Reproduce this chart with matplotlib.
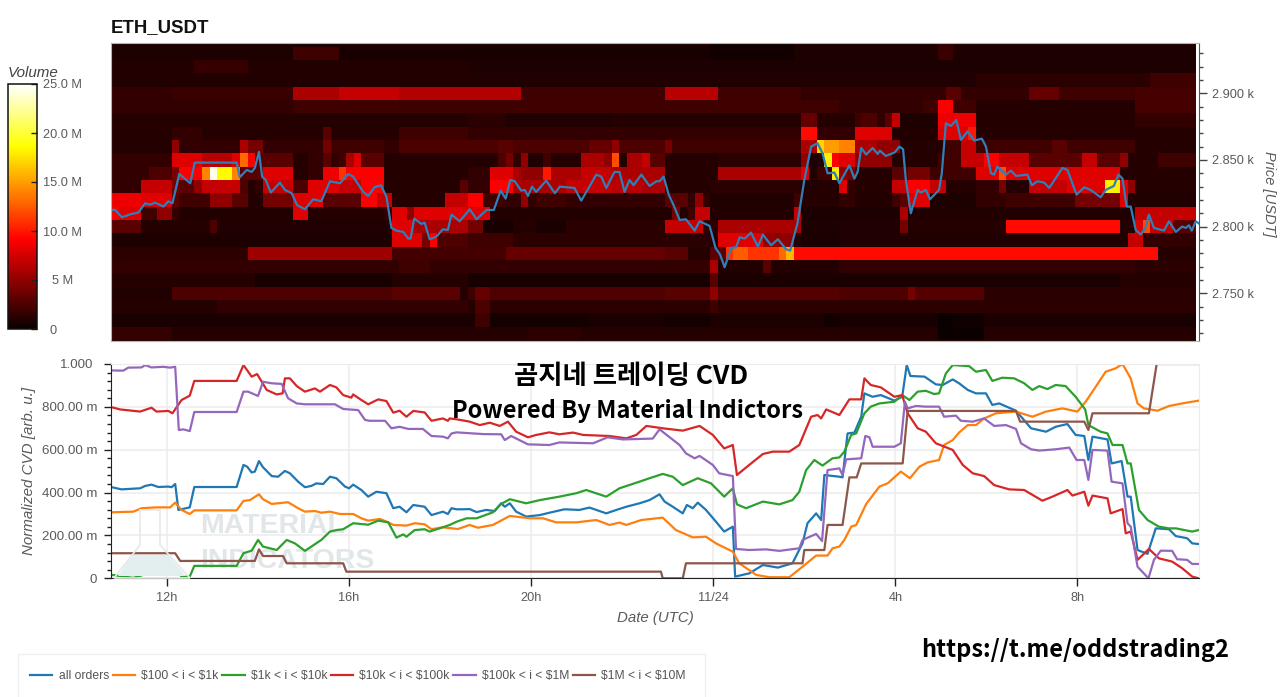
import numpy as np
import matplotlib
matplotlib.use('Agg')
from matplotlib import pyplot as plt
from matplotlib.lines import Line2D
from matplotlib.patches import Polygon, Rectangle
from matplotlib.transforms import ScaledTranslation

plt.rcParams['font.family'] = ['Liberation Sans', 'DejaVu Sans']

# heatmap rows: (first 10 min column of the run, volume in M), one list per 10 USDT price level
row_2940 = [(0, 0.7), (79, 0.3), (90, 0.7), (109, 1.5), (111, 0.8)]
row_2930 = [(0, 0.7), (24, 2.0), (30, 0.5), (79, 0.3), (90, 0.7), (109, 1.8), (111, 0.7)]
row_2920 = [(0, 0.9), (11, 1.7), (18, 0.9), (47, 0.7)]
row_2910 = [(0, 0.8), (114, 1.2), (137, 2.0)]
row_2900 = [(0, 1.5), (8, 1.8), (24, 6.0), (30, 7.0), (38, 6.3), (54, 2.0), (73, 6.5), (80, 2.0),
            (91, 1.5), (110, 3.0), (112, 1.5), (121, 3.5), (125, 2.0), (135, 2.3)]
row_2890 = [(0, 1.5), (24, 2.0), (91, 2.0), (96, 1.5), (107, 2.0), (109, 9.0), (111, 2.0), (114, 1.0), (135, 2.3)]
row_2880 = [(0, 1.0), (47, 1.2), (52, 0.8), (66, 1.0), (91, 3.5), (93, 1.0), (98, 2.0), (99, 2.5), (101, 1.5),
            (102, 3.0), (103, 7.0), (104, 0.7), (109, 8.5), (114, 1.0), (135, 1.5)]
row_2870 = [(0, 1.0), (8, 1.5), (12, 1.0), (28, 3.0), (29, 1.0), (38, 2.0), (47, 1.5), (91, 9.5), (93, 1.5),
            (98, 8.0), (103, 0.9), (109, 8.0), (113, 10.0), (114, 1.0)]
row_2860 = [(0, 1.0), (8, 5.0), (9, 1.5), (17, 6.0), (18, 4.0), (20, 1.5), (28, 4.0), (29, 2.0), (36, 1.5),
            (38, 2.5), (51, 3.0), (53, 2.5), (63, 3.5), (66, 5.0), (67, 2.5), (73, 4.0), (74, 2.0), (91, 6.0),
            (93, 17.0), (94, 15.0), (96, 14.0), (98, 6.0), (101, 5.0), (104, 1.0), (110, 2.0), (112, 7.0),
            (114, 2.0), (124, 3.0), (126, 2.0), (135, 1.0)]
row_2850 = [(0, 1.5), (8, 8.0), (12, 6.5), (16, 8.0), (17, 13.0), (18, 9.0), (19, 3.0), (24, 1.0), (26, 1.5),
            (28, 3.0), (29, 1.5), (30, 2.0), (31, 6.0), (32, 8.0), (33, 3.0), (36, 1.0), (51, 2.5), (52, 4.0),
            (53, 1.5), (54, 5.0), (55, 0.8), (57, 2.0), (58, 1.0), (62, 6.0), (65, 5.0), (66, 12.0), (67, 1.0),
            (68, 6.0), (70, 7.0), (71, 3.0), (73, 1.0), (80, 1.2), (91, 5.0), (92, 0.8), (94, 18.0), (95, 9.0),
            (96, 8.0), (98, 5.0), (103, 1.0), (109, 2.0), (112, 7.0), (115, 9.0), (117, 7.0), (121, 3.0),
            (128, 7.0), (130, 3.0), (133, 5.0), (134, 1.0), (138, 2.0)]
row_2840 = [(0, 1.5), (5, 2.5), (8, 4.0), (9, 9.0), (12, 14.0), (13, 24.5), (14, 18.5), (16, 14.0), (17, 3.0),
            (20, 8.0), (24, 1.0), (26, 1.5), (28, 8.5), (30, 11.0), (31, 9.0), (36, 1.0), (47, 1.5), (50, 8.0),
            (53, 6.0), (54, 5.0), (57, 10.0), (58, 6.0), (62, 7.0), (66, 6.0), (73, 1.0), (80, 6.0), (91, 8.0),
            (92, 0.8), (93, 2.0), (95, 18.0), (96, 5.0), (97, 4.0), (98, 1.0), (103, 3.0), (105, 4.0), (108, 2.0),
            (114, 8.0), (117, 12.0), (118, 8.0), (133, 1.0)]
row_2830 = [(0, 1.5), (4, 7.0), (8, 4.0), (9, 3.0), (11, 5.0), (12, 7.0), (17, 2.5), (18, 1.0), (19, 1.5),
            (20, 7.0), (24, 2.5), (26, 8.0), (30, 7.0), (33, 9.0), (36, 1.0), (46, 3.0), (47, 1.5), (50, 9.0),
            (53, 6.0), (60, 7.0), (66, 6.5), (70, 6.0), (73, 1.0), (79, 1.2), (91, 0.8), (93, 1.0), (96, 8.0),
            (97, 1.5), (98, 1.0), (103, 7.0), (105, 9.0), (108, 7.0), (110, 1.0), (114, 1.5), (117, 4.0),
            (118, 1.0), (121, 7.0), (126, 8.0), (131, 18.0), (133, 8.0), (134, 5.0), (135, 1.0)]
row_2820 = [(0, 8.5), (4, 8.0), (8, 3.0), (9, 2.0), (13, 5.0), (16, 3.0), (18, 1.0), (20, 4.0), (24, 8.0),
            (28, 3.0), (33, 9.0), (35, 7.0), (37, 1.0), (44, 7.0), (47, 9.0), (49, 2.0), (52, 1.5), (54, 5.0),
            (55, 1.5), (56, 2.0), (60, 1.5), (73, 3.0), (76, 1.5), (77, 5.0), (78, 1.5), (79, 0.8), (90, 2.0),
            (91, 1.0), (96, 1.5), (98, 0.9), (103, 2.0), (104, 3.0), (105, 8.0), (108, 0.7), (114, 1.5), (118, 2.0),
            (127, 4.0), (133, 8.0), (134, 1.0), (135, 0.8)]
row_2810 = [(0, 9.0), (1, 8.0), (4, 2.0), (6, 5.0), (8, 1.5), (9, 0.9), (24, 8.0), (26, 1.0), (36, 1.5), (37, 8.0),
            (39, 5.0), (40, 8.0), (50, 0.9), (74, 4.0), (75, 0.9), (76, 2.0), (77, 7.0), (79, 0.9), (90, 7.0),
            (91, 0.6), (96, 0.7), (104, 6.0), (105, 0.8), (135, 7.0)]
row_2800 = [(0, 3.0), (4, 1.0), (13, 2.5), (14, 0.8), (37, 8.0), (40, 6.0), (47, 4.0), (49, 0.5), (53, 1.0),
            (56, 0.6), (60, 1.2), (73, 7.0), (78, 1.2), (80, 6.0), (91, 0.7), (96, 0.8), (104, 4.0), (105, 1.0),
            (118, 9.5), (133, 1.0), (135, 8.0), (136, 12.0), (137, 7.0), (140, 3.0)]
row_2790 = [(0, 0.7), (37, 8.0), (41, 4.0), (42, 9.0), (43, 2.5), (47, 2.0), (53, 1.2), (79, 1.0), (80, 8.0),
            (86, 5.0), (90, 1.0), (91, 0.6), (96, 0.8), (134, 7.0), (136, 1.5)]
row_2780 = [(0, 1.3), (18, 5.5), (37, 2.2), (52, 3.5), (73, 3.0), (76, 1.0), (79, 3.0), (81, 11.0), (82, 12.5),
            (84, 11.0), (88, 13.0), (89, 16.0), (90, 9.5), (138, 1.0)]
row_2770 = [(0, 1.5), (38, 2.0), (42, 1.5), (79, 6.0), (80, 0.9), (86, 3.0), (87, 0.9), (96, 1.5), (135, 1.2)]
row_2760 = [(0, 1.0), (19, 0.5), (37, 1.0), (47, 0.5), (79, 3.0), (80, 0.6), (133, 1.0)]
row_2750 = [(0, 0.8), (8, 2.5), (37, 3.0), (46, 1.0), (47, 2.0), (48, 3.5), (50, 2.6), (73, 3.0), (79, 5.0),
            (80, 2.8), (96, 2.5), (105, 4.0), (106, 2.8), (115, 1.2)]
row_2740 = [(0, 1.0), (14, 1.5), (47, 1.0), (48, 2.5), (50, 1.3), (79, 2.0), (80, 1.3)]
row_2730 = [(0, 0.6), (48, 2.0), (50, 0.4), (63, 0.6), (73, 0.4), (79, 0.7), (94, 0.3), (96, 0.5), (109, 0.05),
            (111, 0.2), (115, 0.6)]
row_2720 = [(0, 1.6), (8, 1.0), (55, 1.3), (62, 1.0), (109, 0.05), (115, 1.0)]
row_2710 = [(0, 1.0)]

heat_rows = [row_2710, row_2720, row_2730, row_2740, row_2750, row_2760, row_2770, row_2780,
             row_2790, row_2800, row_2810, row_2820, row_2830, row_2840, row_2850, row_2860,
             row_2870, row_2880, row_2890, row_2900, row_2910, row_2920, row_2930, row_2940]

# times are hours since 00:00 on 11/23
price_t = [10.77, 10.86, 11.01, 11.22, 11.37, 11.52, 11.63, 11.74, 11.92, 12.03, 12.12, 12.27, 12.51, 12.61, 13.53, 13.60, 13.75, 13.86, 13.93, 14.02, 14.09, 14.17, 14.28, 14.48, 14.59, 14.74, 14.86, 15.03, 15.21, 15.39, 15.58, 15.80, 15.98, 16.09, 16.31, 16.42, 16.56, 16.70, 16.82, 16.93, 17.04, 17.19, 17.30, 17.35, 17.43, 17.59, 17.66, 17.77, 17.92, 18.06, 18.17, 18.25, 18.43, 18.65, 18.80, 19.02, 19.18, 19.33, 19.44, 19.54, 19.64, 19.78, 19.86, 19.93, 20.02, 20.11, 20.33, 20.52, 20.63, 20.95, 21.10, 21.28, 21.43, 21.54, 21.65, 21.83, 21.94, 22.05, 22.16, 22.25, 22.42, 22.60, 22.75, 22.82, 22.91, 23.02, 23.13, 23.26, 23.40, 23.59, 23.70, 23.92, 24.05, 24.15, 24.25, 24.39, 24.50, 24.58, 24.69, 24.83, 24.98, 25.09, 25.27, 25.42, 25.60, 25.69, 25.85, 26.00, 26.15, 26.29, 26.40, 26.51, 26.66, 26.77, 26.99, 27.10, 27.17, 27.25, 27.36, 27.50, 27.61, 27.66, 27.79, 27.98, 28.09, 28.17, 28.23, 28.34, 28.49, 28.56, 28.67, 28.76, 28.96, 29.02, 29.11, 29.22, 29.34, 29.44, 29.59, 29.73, 29.90, 29.99, 30.10, 30.17, 30.24, 30.43, 30.54, 30.65, 30.90, 31.00, 31.12, 31.27, 31.38, 31.67, 31.78, 31.98, 32.15, 32.29, 32.51, 32.62, 32.80, 32.90, 32.99, 33.08, 33.17, 33.28, 33.39, 33.49, 33.57, 33.68, 33.90, 34.01, 34.16, 34.30, 34.38, 34.45, 34.51, 34.60, 34.66]
price_v = [2812.5, 2812.5, 2807, 2809.5, 2810.5, 2817.5, 2816.5, 2818, 2815, 2819, 2817.5, 2839.5, 2832.5, 2848, 2848, 2837, 2842.5, 2841, 2844, 2856, 2837.5, 2835, 2825.5, 2833, 2827.5, 2825, 2816, 2813, 2820.5, 2819, 2834, 2832.5, 2839.5, 2837.5, 2826, 2823, 2829.5, 2831, 2822.5, 2799, 2797, 2796, 2791, 2791, 2806, 2802, 2803, 2790.5, 2792.5, 2798, 2797.5, 2809, 2804, 2813, 2805.5, 2812.5, 2812.5, 2827, 2821, 2835, 2834, 2827, 2827.5, 2823, 2830, 2826, 2834.5, 2825, 2830, 2829, 2819.5, 2830, 2839, 2837.5, 2829, 2841, 2841, 2826, 2835, 2831, 2839, 2830.5, 2834, 2834, 2837.5, 2824, 2816, 2805, 2805.5, 2797, 2804, 2800.5, 2784, 2779, 2769.5, 2784, 2784.5, 2792, 2791, 2795.5, 2785, 2794, 2786, 2790.5, 2783, 2782, 2802.5, 2835, 2860, 2862.5, 2855, 2840, 2840.5, 2832.5, 2846, 2836, 2841, 2859, 2854, 2859, 2854.5, 2857, 2853, 2855.5, 2860, 2858, 2835, 2810, 2827.5, 2825.5, 2827.5, 2820.5, 2827.5, 2840, 2877.5, 2875.5, 2880, 2865, 2871.5, 2864.5, 2866, 2860, 2840, 2839, 2845, 2839, 2842, 2838, 2839, 2831, 2834, 2833, 2829, 2844, 2842.5, 2824, 2829.5, 2827.5, 2822, 2827.5, 2830.5, 2839, 2836, 2815, 2815, 2797.5, 2794, 2799, 2809, 2799, 2797, 2804, 2796, 2800, 2799, 2801, 2797, 2804, 2802.5]

all_t = [10.79, 11.00, 11.41, 11.52, 11.66, 11.81, 12.03, 12.10, 12.18, 12.25, 12.50, 12.60, 13.53, 13.68, 13.76, 13.86, 13.93, 14.02, 14.11, 14.30, 14.44, 14.59, 14.70, 14.88, 15.03, 15.17, 15.28, 15.43, 15.58, 15.72, 15.91, 16.00, 16.09, 16.27, 16.42, 16.60, 16.82, 16.97, 17.11, 17.26, 17.41, 17.66, 17.81, 18.06, 18.17, 18.25, 18.36, 18.50, 18.65, 18.80, 19.01, 19.20, 19.34, 19.42, 19.53, 19.67, 19.89, 20.19, 20.40, 20.73, 21.06, 21.28, 21.65, 21.87, 22.09, 22.38, 22.60, 22.82, 22.93, 23.11, 23.33, 23.42, 23.55, 23.66, 23.84, 24.06, 24.24, 24.43, 24.48, 24.79, 25.09, 25.42, 25.74, 25.96, 26.07, 26.26, 26.37, 26.44, 26.77, 26.84, 26.95, 27.10, 27.25, 27.32, 27.50, 27.68, 27.98, 28.15, 28.25, 28.33, 28.64, 28.89, 29.04, 29.26, 29.40, 29.59, 29.77, 29.99, 30.13, 30.28, 30.65, 30.98, 31.31, 31.52, 31.78, 31.96, 32.15, 32.24, 32.33, 32.66, 32.75, 32.97, 33.10, 33.17, 33.32, 33.54, 33.72, 34.01, 34.16, 34.41, 34.52, 34.66]
all_v = [425, 415, 420, 431, 437, 426, 428, 425, 440, 319, 331, 426, 426, 529, 521, 494, 498, 547, 518, 477, 474, 501, 490, 451, 425, 431, 443, 440, 474, 467, 428, 420, 437, 412, 381, 404, 397, 327, 334, 308, 342, 334, 295, 311, 300, 327, 322, 322, 323, 309, 319, 314, 350, 334, 350, 311, 288, 295, 306, 322, 319, 330, 303, 319, 334, 350, 365, 392, 358, 334, 303, 342, 327, 353, 319, 264, 218, 241, 8, 23, 62, 50, 70, 163, 257, 303, 272, 482, 474, 471, 676, 680, 754, 863, 847, 855, 829, 847, 995, 944, 941, 905, 902, 928, 910, 879, 863, 863, 809, 816, 782, 700, 684, 707, 720, 669, 664, 552, 661, 648, 536, 547, 381, 381, 132, 114, 233, 229, 197, 187, 163, 160]

small_t = [10.79, 11.26, 11.44, 11.77, 12.07, 12.18, 12.32, 12.50, 12.60, 13.53, 13.68, 13.82, 14.02, 14.11, 14.30, 14.66, 14.88, 15.03, 15.25, 15.39, 15.58, 15.80, 16.09, 16.27, 16.42, 16.68, 16.86, 16.97, 17.26, 17.44, 17.66, 17.81, 18.06, 18.39, 18.65, 18.83, 19.16, 19.53, 19.97, 20.26, 20.55, 20.99, 21.43, 21.72, 21.94, 22.09, 22.42, 22.89, 23.18, 23.55, 23.84, 24.06, 24.43, 24.57, 24.94, 25.23, 25.67, 25.96, 26.26, 26.51, 26.62, 26.77, 26.88, 27.03, 27.14, 27.36, 27.65, 27.83, 28.12, 28.32, 28.53, 28.71, 28.96, 29.07, 29.26, 29.40, 29.59, 29.77, 29.95, 30.21, 30.65, 31.01, 31.31, 31.67, 32.00, 32.18, 32.33, 32.62, 32.84, 32.99, 33.17, 33.32, 33.46, 33.76, 34.01, 34.30, 34.66]
small_v = [308, 311, 327, 331, 331, 353, 319, 300, 317, 317, 361, 365, 392, 369, 347, 355, 327, 311, 314, 306, 311, 300, 300, 280, 269, 277, 261, 249, 246, 257, 252, 229, 238, 230, 249, 236, 249, 291, 280, 280, 261, 261, 272, 249, 260, 249, 272, 283, 225, 191, 194, 163, 124, 70, 16, 5, 5, 54, 106, 106, 140, 148, 179, 241, 249, 347, 428, 443, 498, 467, 521, 541, 552, 622, 645, 680, 715, 715, 746, 770, 778, 754, 778, 793, 778, 824, 871, 964, 980, 1000, 933, 816, 793, 782, 804, 816, 829]

retail_t = [10.79, 11.26, 11.48, 11.74, 12.07, 12.14, 12.18, 12.32, 12.50, 12.60, 13.53, 13.68, 13.86, 14.00, 14.11, 14.41, 14.63, 14.81, 15.03, 15.39, 15.58, 15.72, 15.87, 16.09, 16.42, 16.64, 16.86, 17.04, 17.19, 17.26, 17.44, 17.66, 17.77, 18.06, 18.21, 18.36, 18.58, 18.80, 19.16, 19.34, 19.53, 19.89, 20.19, 20.62, 20.99, 21.21, 21.65, 21.94, 22.38, 22.60, 22.89, 23.11, 23.33, 23.66, 23.95, 24.24, 24.43, 24.52, 24.72, 25.09, 25.45, 25.74, 25.89, 26.04, 26.22, 26.40, 26.62, 26.77, 26.88, 27.03, 27.14, 27.32, 27.46, 27.65, 27.98, 28.15, 28.31, 28.49, 28.67, 28.85, 28.96, 29.11, 29.26, 29.62, 29.77, 29.99, 30.13, 30.35, 30.61, 30.83, 31.01, 31.16, 31.34, 31.52, 31.74, 31.96, 32.17, 32.24, 32.51, 32.66, 32.77, 32.99, 33.10, 33.17, 33.35, 33.54, 33.79, 34.01, 34.16, 34.52, 34.66]
retail_v = [16, 2, 16, 26, 26, 31, 47, 8, 8, 58, 58, 117, 129, 179, 148, 132, 179, 163, 128, 179, 218, 225, 229, 257, 250, 269, 261, 190, 205, 194, 225, 229, 218, 238, 249, 264, 280, 280, 308, 347, 369, 350, 365, 381, 397, 412, 381, 420, 451, 467, 487, 474, 435, 467, 443, 381, 420, 345, 327, 358, 345, 365, 404, 505, 552, 526, 560, 564, 591, 669, 676, 770, 801, 816, 824, 855, 832, 871, 875, 860, 863, 956, 995, 990, 964, 972, 921, 936, 933, 910, 879, 897, 883, 902, 897, 847, 788, 715, 684, 676, 622, 622, 536, 536, 319, 272, 241, 233, 233, 218, 225]

mid_t = [10.79, 10.97, 11.41, 11.66, 11.77, 12.03, 12.12, 12.32, 12.50, 12.60, 13.53, 13.68, 13.86, 13.98, 14.19, 14.41, 14.54, 14.59, 14.70, 14.85, 15.03, 15.25, 15.36, 15.58, 15.72, 15.87, 16.05, 16.09, 16.27, 16.42, 16.64, 16.82, 16.97, 17.11, 17.26, 17.41, 17.66, 17.81, 18.06, 18.17, 18.21, 18.36, 18.65, 18.87, 19.09, 19.31, 19.49, 19.67, 19.93, 20.11, 20.40, 20.62, 20.92, 21.14, 21.72, 22.09, 22.31, 22.53, 22.89, 23.33, 23.70, 23.99, 24.24, 24.43, 24.52, 24.79, 25.09, 25.31, 25.67, 25.89, 26.15, 26.29, 26.37, 26.48, 26.77, 26.99, 27.25, 27.32, 27.46, 27.68, 27.98, 28.15, 28.27, 28.49, 28.67, 28.89, 29.26, 29.48, 29.70, 29.95, 30.17, 30.50, 30.83, 31.23, 31.45, 31.78, 31.89, 32.15, 32.24, 32.33, 32.66, 32.73, 32.99, 33.06, 33.17, 33.32, 33.57, 33.79, 34.08, 34.30, 34.52, 34.66]
mid_v = [798, 788, 778, 796, 778, 781, 770, 832, 852, 921, 921, 995, 941, 953, 879, 858, 863, 933, 933, 897, 871, 886, 871, 902, 891, 855, 843, 858, 832, 812, 835, 827, 773, 782, 754, 781, 774, 735, 746, 735, 746, 742, 731, 715, 726, 711, 731, 684, 658, 669, 681, 672, 680, 669, 664, 653, 669, 711, 700, 689, 711, 669, 606, 622, 482, 529, 580, 591, 591, 622, 754, 762, 746, 788, 762, 835, 835, 933, 902, 891, 847, 855, 770, 700, 684, 630, 599, 529, 490, 477, 435, 415, 412, 362, 381, 412, 386, 404, 339, 386, 373, 303, 323, 210, 218, 86, 137, 93, 78, 47, 8, 0]

large_t = [10.79, 11.04, 11.15, 11.44, 11.52, 11.66, 11.92, 12.07, 12.18, 12.26, 12.36, 12.50, 12.60, 13.53, 13.68, 13.78, 14.00, 14.11, 14.30, 14.52, 14.66, 14.85, 15.03, 15.69, 15.87, 16.20, 16.35, 16.45, 16.79, 16.93, 17.11, 17.30, 17.62, 17.81, 18.06, 18.17, 18.25, 18.36, 18.94, 19.34, 19.42, 19.56, 19.93, 20.40, 20.62, 21.36, 21.68, 22.01, 22.67, 22.82, 23.26, 23.40, 23.59, 23.70, 23.99, 24.13, 24.43, 24.50, 24.79, 25.16, 25.45, 25.89, 25.96, 26.26, 26.39, 26.51, 26.77, 26.84, 26.92, 27.25, 27.34, 27.43, 27.50, 27.98, 28.12, 28.21, 28.27, 28.45, 28.67, 28.96, 29.07, 29.33, 29.44, 29.70, 29.95, 30.17, 30.43, 30.65, 30.76, 30.98, 31.16, 31.52, 31.82, 31.98, 32.15, 32.24, 32.33, 32.66, 32.75, 32.99, 33.10, 33.17, 33.32, 33.56, 33.68, 33.83, 34.08, 34.19, 34.41, 34.52, 34.66]
large_v = [970, 969, 983, 984, 995, 984, 987, 983, 987, 692, 695, 687, 776, 776, 871, 871, 851, 917, 910, 907, 840, 816, 812, 812, 790, 785, 739, 735, 735, 700, 707, 697, 697, 664, 661, 653, 676, 681, 673, 672, 645, 664, 625, 622, 634, 630, 658, 648, 652, 695, 622, 583, 560, 571, 529, 490, 477, 137, 132, 135, 128, 140, 179, 207, 174, 505, 513, 482, 555, 560, 664, 658, 614, 614, 630, 824, 793, 804, 801, 801, 754, 759, 735, 731, 746, 711, 715, 697, 630, 602, 596, 602, 610, 552, 552, 459, 599, 596, 451, 443, 257, 241, 54, 0, 86, 129, 128, 89, 86, 67, 67]

whale_t = [10.79, 12.18, 12.29, 13.93, 14.02, 14.11, 14.55, 14.63, 15.87, 15.94, 22.85, 22.89, 23.33, 23.40, 25.96, 26.00, 26.44, 26.51, 26.84, 26.99, 27.15, 27.25, 28.16, 28.27, 30.65, 30.74, 32.15, 32.24, 32.33, 33.57, 33.74, 34.66]
whale_v = [117, 117, 81, 81, 135, 104, 104, 70, 70, 31, 31, 0, 0, 70, 70, 132, 132, 249, 249, 471, 471, 536, 536, 781, 781, 731, 731, 692, 770, 770, 1000, 1000]

series_labels = ['all orders', r'\$100 < i < \$1k', r'\$1k < i < \$10k', r'\$10k < i < \$100k', r'\$100k < i < \$1M', r'\$1M < i < \$10M']
series_colors = ['#1f77b4', '#ff7f0e', '#2ca02c', '#d62728', '#9467bd', '#8c564b']
cvd_series = [(all_t, all_v), (small_t, small_v), (retail_t, retail_v), (mid_t, mid_v), (large_t, large_v), (whale_t, whale_v)]

time_ticks = [12, 16, 20, 24, 28, 32]
time_labels = ['12h', '16h', '20h', '11/24', '4h', '8h']
cvd_ticks = [0, 200, 400, 600, 800, 1000]
cvd_labels = ['0', '200.00 m', '400.00 m', '600.00 m', '800.00 m', '1.000']
price_ticks = [2750, 2800, 2850, 2900]
price_labels = ['2.750 k', '2.800 k', '2.850 k', '2.900 k']
volume_ticks = [0, 5, 10, 15, 20, 25]
volume_labels = ['0', '5 M', '10.0 M', '15.0 M', '20.0 M', '25.0 M']

W, H = 1280, 697
GREY = '#5a5a5a'
T_MIN, T_MAX = 10.77, 34.67


def box(x0, y0, x1, y1):
    # pixel box (y down) to figure fractions
    return [x0 / W, 1 - y1 / H, (x1 - x0) / W, (y1 - y0) / H]


def px(x, y):
    return x / W, 1 - y / H


fig = plt.figure(figsize=(W / 100, H / 100), dpi=100, facecolor='white')

###### heatmap panel
ax_top = fig.add_axes(box(111, 43, 1199, 341))
volume = np.zeros((len(heat_rows), 143))
for i, row in enumerate(heat_rows):
    for j, (start, val) in enumerate(row):
        stop = row[j + 1][0] if j + 1 < len(row) else 143
        volume[i, start:stop] = val
t_edges = T_MIN + np.arange(144) / 6
p_edges = 2705 + 10 * np.arange(25)
mesh = ax_top.pcolormesh(t_edges, p_edges, volume, cmap='hot', vmin=0, vmax=25)
ax_top.plot(price_t, price_v, color='#2f7fb8', lw=1.6, solid_joinstyle='round')
ax_top.set_xlim(T_MIN, T_MAX)
ax_top.set_ylim(2714.2, 2937.7)
ax_top.set_xticks([])
ax_top.yaxis.tick_right()
ax_top.set_yticks(price_ticks, price_labels)
ax_top.set_yticks(np.arange(2720, 2940, 10), minor=True)
ax_top.tick_params(axis='y', which='major', length=5.5, width=1, color='#444444', labelcolor=GREY, labelsize=9.2, pad=3.5)
ax_top.tick_params(axis='y', which='minor', length=3, width=1, color='#444444')
for side in ['top', 'left', 'bottom']:
    ax_top.spines[side].set_color('#b5b5b5')
    ax_top.spines[side].set_linewidth(0.8)
ax_top.spines['right'].set_color('#555555')
fig.text(*px(111, 28), 'ETH_USDT', fontsize=13.4, fontweight='bold', color='#111111', va='center')
fig.text(*px(1269, 194), 'Price [USDT]', rotation=-90, style='italic', fontsize=10.5, color=GREY, ha='center', va='center')

###### colorbar
cax = fig.add_axes(box(7.5, 84, 36.5, 329))
cbar = fig.colorbar(mesh, cax=cax)
cbar.set_ticks(volume_ticks, labels=volume_labels)
cax.tick_params(axis='y', direction='in', length=4, width=1, color='#222222', labelcolor=GREY, labelsize=9.2, pad=18.5)
for lab in cax.get_yticklabels():
    lab.set_ha('center')
cax.get_yticklabels()[0].set_transform(cax.get_yticklabels()[0].get_transform() + ScaledTranslation(-0.09, 0, fig.dpi_scale_trans))
cbar.outline.set_edgecolor('#111111')
cbar.outline.set_linewidth(1.1)
fig.text(*px(8, 73), 'Volume', style='italic', fontsize=10.9, color='#444444', va='center')

###### CVD panel
ax = fig.add_axes(box(111, 364, 1199, 578.3))
ax.set_xlim(T_MIN, T_MAX)
ax.set_ylim(0, 1000)
ax.set_axisbelow(True)
ax.grid(True, color='#ececec', lw=1.1)

# watermark behind the lines
ax.text(*ax.transAxes.inverted().transform(fig.transFigure.transform(px(200, 526))), 'MATERIAL', transform=ax.transAxes,
        fontweight='bold', fontsize=20.5, color='#e1e6e8', va='center', zorder=0.5)
ax.text(*ax.transAxes.inverted().transform(fig.transFigure.transform(px(200, 561))), 'INDICATORS', transform=ax.transAxes,
        fontweight='bold', fontsize=20.5, color='#e1e6e8', va='center', zorder=0.5)
flask = [(140, 510), (160, 510), (160, 545), (190, 578), (114, 578), (140, 545)]
liquid = [(132, 555), (168, 555), (186, 576), (118, 576)]
fig.add_artist(Polygon([px(*p) for p in flask], closed=True, transform=fig.transFigure, fill=False, edgecolor='#e6e9e9', lw=1.2, zorder=0.5))
fig.add_artist(Polygon([px(*p) for p in liquid], closed=True, transform=fig.transFigure, facecolor='#e3eeee', edgecolor='none', zorder=0.5))
ax.patch.set_alpha(0)

for (tt, vv), col, lab in zip(cvd_series, series_colors, series_labels):
    ax.plot(tt, vv, color=col, lw=1.6, label=lab, clip_on=True, solid_joinstyle='round')

ax.set_xticks(time_ticks, time_labels)
ax.set_yticks(cvd_ticks, cvd_labels)
ax.set_yticks(np.arange(0, 1001, 40), minor=True)
ax.tick_params(axis='x', length=5.5, width=1, color='#222222', labelcolor=GREY, labelsize=9.2, pad=4.5)
ax.tick_params(axis='y', which='major', length=5, width=1, color='#222222', labelcolor=GREY, labelsize=9.6, pad=5)
ax.tick_params(axis='y', which='minor', length=3, width=1, color='#222222')
ylab = ax.get_yticklabels()[-1]
ylab.set_transform(ylab.get_transform() + ScaledTranslation(-0.04, 0, fig.dpi_scale_trans))
for side in ['top', 'right']:
    ax.spines[side].set_color('#ececec')
ax.spines['left'].set_color('#222222')
ax.spines['bottom'].set_color('#222222')
fig.text(*px(29, 471), 'Normalized CVD [arb. u.]', rotation=90, style='italic', fontsize=10.9, color=GREY, ha='center', va='center')
fig.text(*px(655, 618), 'Date (UTC)', style='italic', fontsize=10.8, color=GREY, ha='center', va='center')

###### overlay captions
cjk = ['Noto Sans CJK KR', 'DejaVu Sans']
fig.text(*px(631, 377), '곰지네 트레이딩 CVD', family=cjk, fontweight='bold', fontsize=19, color='black', ha='center', va='center')
fig.text(*px(628, 411), 'Powered By Material Indictors', family=cjk, fontweight='bold', fontsize=17, color='black', ha='center', va='center')
fig.text(*px(1075, 650), 'https://t.me/oddstrading2', family=cjk, fontweight='bold', fontsize=17, color='black', ha='center', va='center')

###### legend
fig.add_artist(Rectangle(px(18, 700), 687 / W, 46 / H, transform=fig.transFigure, fill=False, edgecolor='#f0f0f0', lw=1))
handles = [Line2D([0], [0], color=c, lw=1.6) for c in series_colors]
fig.legend(handles, series_labels, loc='center left', bbox_to_anchor=px(30, 676), ncols=6, frameon=False,
           fontsize=8.75, handlelength=1.85, handletextpad=0.5, columnspacing=0.3, labelcolor='#555555', borderaxespad=0, borderpad=0)

fig.savefig('out.png', dpi=100)
